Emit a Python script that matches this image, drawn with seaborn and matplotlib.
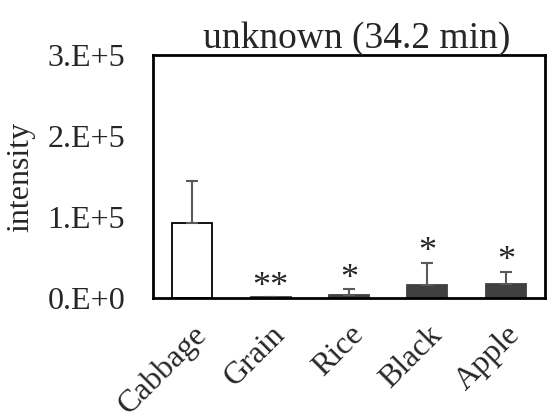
import matplotlib
matplotlib.use("Agg")
import matplotlib.pyplot as plt
import seaborn as sns
import pandas as pd

categories = ["Cabbage", "Grain", "Rice", "Black", "Apple"]
values = [92500, 1000, 3700, 15700, 17300]
errors = [52000, 0, 7000, 28000, 15000]
marks = ["", "**", "*", "*", "*"]
yticks = [0, 100000, 200000, 300000]
ytick_labels = ["0.E+0", "1.E+5", "2.E+5", "3.E+5"]

sns.set_theme(style="white")
plt.rcParams["font.family"] = ["Liberation Serif", "DejaVu Serif"]

fig = plt.figure(figsize=(5.47, 4.13), dpi=100)
ax = fig.add_axes([153/547, 1-298/413, 392/547, 243/413])

df = pd.DataFrame({"cat": categories, "val": values})
colors = ["white", "#404040", "#404040", "#404040", "#404040"]
sns.barplot(data=df, x="cat", y="val", hue="cat", palette=colors, legend=False,
            width=0.51, edgecolor="black", linewidth=1.3, ax=ax)
for p, c in zip(ax.patches, colors):
    p.set_edgecolor("black" if c == "white" else "#404040")

ax.errorbar(range(len(categories)), values, yerr=[[0]*len(errors), errors],
            fmt="none", ecolor="#5a5a5a", elinewidth=1.5, capsize=4.5, capthick=1.5)

for i, (v, e, m) in enumerate(zip(values, errors, marks)):
    if m:
        ax.text(i, v + e - 8000, m, ha="center", va="bottom", fontsize=26)

ax.set_ylim(0, 300000)
ax.set_xlim(-0.5, 4.5)
ax.set_yticks(yticks)
ax.set_yticklabels(ytick_labels, fontsize=23)
ax.set_xticks(range(len(categories)))
ax.set_xticklabels(categories, fontsize=23, rotation=45, ha="right", rotation_mode="anchor")
ax.tick_params(axis="y", length=0, pad=20)
ax.tick_params(axis="x", length=0, pad=16)
ax.set_xlabel("")
ax.set_ylabel("intensity", fontsize=23, labelpad=9)
ax.set_title("unknown (34.2 min)", fontsize=27, pad=5, x=0.52)
for s in ax.spines.values():
    s.set_visible(True)
    s.set_color("black")
    s.set_linewidth(2)

fig.savefig("out.png", dpi=100)
